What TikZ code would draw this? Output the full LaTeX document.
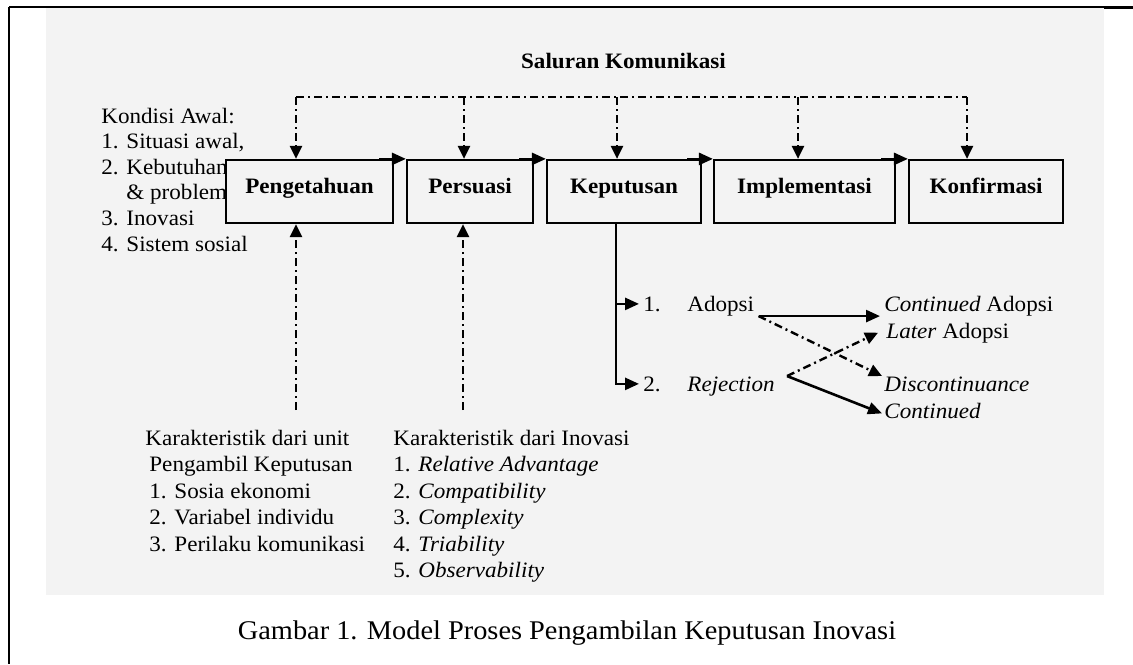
\documentclass[tikz,border=0pt]{standalone}
\usepackage{fontspec}
\setmainfont{Liberation Serif}[FakeStretch=1.05]
\usepackage{tikz}
\usetikzlibrary{arrows.meta}
\definecolor{bggray}{HTML}{F3F3F3}
\tikzset{
    stage/.style={draw, line width=1.1pt, fill=bggray, minimum height=31.5pt, inner sep=0pt,
        text height=6pt, text depth=4pt, font=\fontsize{11}{13}\selectfont\bfseries},
    txt/.style={anchor=base west, inner sep=0pt, align=left, font=\fontsize{11}{13.25}\selectfont},
    flow/.style={line width=1.3pt, -{Triangle[length=7pt,width=6pt]}},
    comm/.style={line width=1.2pt, dash pattern=on 4pt off 2pt on 1pt off 2pt},
    commarrow/.style={comm, -{Triangle[length=6.5pt,width=6pt]}}
}

\begin{document}
\begin{tikzpicture}[x=0.5pt, y=-0.5pt]
    \useasboundingbox (0,0) rectangle (1133,664);
    % page frame and grey scan area
    \fill[bggray] (46,8) rectangle (1104,595);
    \draw[line width=1pt] (9,7) -- (9,664);
    \draw[line width=0.7pt] (9,7) -- (1104,7);
    \draw[line width=1.3pt] (1104,7.5) -- (1133,7.5);

    % initial conditions (the first box covers their ends)
    % (a multi-line node sits on the baseline of its last line)
    \node[txt, font=\fontsize{11}{12.8}\selectfont] (kondisi) at (101,251)
        {Kondisi Awal:\\1. Situasi awal,\\2. Kebutuhan\\\phantom{2. }\& problem\\3. Inovasi\\4. Sistem sosial};

    % the five stages
    \node[stage, minimum width=83.5pt] (peng) at (309.5,191.5) {Pengetahuan};
    \node[stage, minimum width=63pt]   (pers) at (470,191.5) {Persuasi};
    \node[stage, minimum width=77pt]   (kep)  at (624,191.5) {Keputusan};
    \node[stage, minimum width=90.5pt] (impl) at (804.5,191.5) {Implementasi};
    \node[stage, minimum width=77pt]   (konf) at (986,191.5) {Konfirmasi};
    \draw[flow] ([xshift=-7.5pt]peng.north east) -- (pers.north west);
    \draw[flow] ([xshift=-7.5pt]pers.north east) -- (kep.north west);
    \draw[flow] ([xshift=-7.5pt]kep.north east) -- (impl.north west);
    \draw[flow] ([xshift=-7.5pt]impl.north east) -- (konf.north west);

    % communication channels
    \node[anchor=base, inner sep=0pt, font=\fontsize{11}{13}\selectfont\bfseries] (saluran) at (623.5,68) {Saluran Komunikasi};
    \coordinate (sal1) at (296,97);
    \coordinate (sal2) at (464,97);
    \coordinate (sal3) at (617,97);
    \coordinate (sal4) at (798,97);
    \coordinate (sal5) at (967,97);
    \draw[comm] (sal1) -- (sal5);
    \draw[commarrow] (sal1) -- (sal1 |- peng.north);
    \draw[commarrow] (sal2) -- (sal2 |- pers.north);
    \draw[commarrow] (sal3) -- (sal3 |- kep.north);
    \draw[commarrow] (sal4) -- (sal4 |- impl.north);
    \draw[commarrow] (sal5) -- (sal5 |- konf.north);

    % characteristics below
    \node[txt] (unit) at (145,551)
        {Karakteristik dari unit\\\hspace*{2pt}Pengambil Keputusan\\\hspace*{2pt}1. Sosia ekonomi\\\hspace*{2pt}2. Variabel individu\\\hspace*{2pt}3. Perilaku komunikasi};
    \node[txt] (inov) at (393,577.5)
        {Karakteristik dari Inovasi\\1. \textit{Relative Advantage}\\2. \textit{Compatibility}\\3. \textit{Complexity}\\4. \textit{Triability}\\5. \textit{Observability}};
    \coordinate (kar1) at (296,410);
    \coordinate (kar2) at (463,410);
    \draw[commarrow] (kar1) -- (kar1 |- peng.south);
    \draw[commarrow] (kar2) -- (kar2 |- pers.south);

    % outcomes of the decision
    \node[txt] (num1) at (643,311) {1.};
    \node[txt] (adopsi) at (687,311) {Adopsi};
    \node[txt] (num2) at (643,391) {2.};
    \node[txt] (rejection) at (687,391) {\textit{Rejection}};
    \node[txt] (contadopsi) at (884,311) {\textit{Continued} Adopsi};
    \node[txt] (laterad) at (886,338) {\textit{Later} Adopsi};
    \node[txt] (discont) at (884,391) {\textit{Discontinuance}};
    \node[txt] (continued) at (884,418) {\textit{Continued}};
    \draw[flow, shorten >=2pt] ([xshift=-4pt]kep.south) |- (num2.west);
    \draw[flow, shorten >=2pt] ([xshift=-4pt]kep.south |- num1.west) -- (num1.west);
    \draw[flow] ([xshift=2pt]adopsi.south east) -- ([xshift=-2pt]contadopsi.south west);
    \draw[commarrow] ([xshift=2pt]adopsi.south east) -- ([xshift=-1pt]discont.north west);
    \draw[commarrow] ([xshift=6pt]rejection.north east) -- ([xshift=-4pt]laterad.west);
    \draw[flow] ([xshift=6pt]rejection.north east) -- ([xshift=-1pt]continued.mid west);

    % caption
    \node[anchor=base, inner sep=0pt, font=\fontsize{13.5}{16}\selectfont] (caption) at (567,639) {Gambar 1. Model Proses Pengambilan Keputusan Inovasi};
\end{tikzpicture}
\end{document}
